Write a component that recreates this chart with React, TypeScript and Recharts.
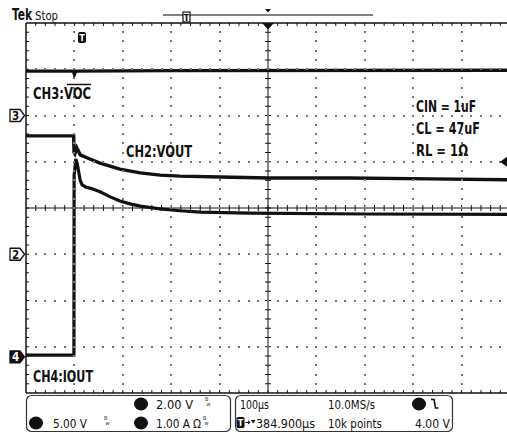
import { LineChart, Line, XAxis, YAxis, ReferenceLine } from "recharts";

// time in µs (100 µs/div), value in screen divisions (centre = 0)
const vocTime = [0, 98, 100, 103, 300, 1000];
const vocDiv = [2.96, 2.96, 2.89, 2.96, 2.97, 2.98];

const voutTime = [0, 98.5, 99.2, 101, 105, 112, 132, 153, 194, 236, 277, 318, 401, 504, 669, 835, 1000];
const voutDiv = [1.56, 1.56, 1.2, 1.17, 1.3, 1.15, 1.06, 0.97, 0.84, 0.76, 0.71, 0.69, 0.67, 0.65, 0.65, 0.63, 0.61];

const ioutTime = [0, 99, 99.4, 103, 106, 112, 116, 124, 132, 153, 174, 194, 215, 236, 277, 318, 360, 463, 700, 1000];
const ioutDiv = [-3.18, -3.18, 0.7, 1.06, 0.95, 0.6, 0.5, 0.45, 0.43, 0.35, 0.24, 0.15, 0.09, 0.04, -0.02, -0.06, -0.09, -0.11, -0.13, -0.14];

const majorT = [100, 200, 300, 400, 600, 700, 800, 900];
const majorV = [-3, -2, -1, 1, 2, 3];
const minorT = Array.from({ length: 49 }, (_, i) => (i + 1) * 20);
const minorV = Array.from({ length: 39 }, (_, i) => -4 + (i + 1) * 0.2);

const vocData = vocTime.map((t, i) => ({ t, v: vocDiv[i] }));
const voutData = voutTime.map((t, i) => ({ t, v: voutDiv[i] }));
const ioutData = ioutTime.map((t, i) => ({ t, v: ioutDiv[i] }));

const FONT = "'Liberation Sans Narrow', 'DejaVu Sans Condensed', 'Liberation Sans', sans-serif";
const INK = "#111";
const DOT = "#777";

// screen helpers for the overlay (plot box: x 26..510, y 23..393)
const xPix = (t: number) => 26 + t * 0.484;
const yPix = (d: number) => 208 - d * 46.25;

function ChanMarker({ y, label, filled }: { y: number; label: string; filled?: boolean }) {
  return (
    <g>
      <path
        d={`M10,${y - 6} h10 l4.5,6 l-4.5,6 h-10 z`}
        fill={filled ? INK : "#fff"}
        stroke={INK}
        strokeWidth={1.3}
        strokeLinejoin="round"
      />
      <text x={15.5} y={y + 4.3} fontSize={11.5} fontWeight="bold" fill={filled ? "#fff" : INK} textAnchor="middle" fontFamily={FONT}>
        {label}
      </text>
    </g>
  );
}

function Bw({ x, y }: { x: number; y: number }) {
  return (
    <g fill="#333" fontFamily={FONT} fontSize={5.5}>
      <text x={x} y={y - 3}>B</text>
      <text x={x + 1.5} y={y + 2}>w</text>
    </g>
  );
}

function T({ x, y, w, h, text, weight }: { x: number; y: number; w: number; h?: number; text: string; weight?: string }) {
  return (
    <text
      x={x}
      y={y}
      fontSize={h ?? 16}
      fontWeight={weight ?? "bold"}
      fill={INK}
      fontFamily={FONT}
      textLength={w}
      lengthAdjust="spacingAndGlyphs"
    >
      {text}
    </text>
  );
}

export default function App() {
  const tickT = 6.2;
  const tickV = 0.065;
  return (
    <div style={{ position: "fixed", left: 0, top: 0, width: 507, height: 434, overflow: "hidden", background: "#fff" }}>
      <div style={{ position: "absolute", left: 0, top: 0 }}>
        <LineChart width={520} height={434} margin={{ top: 23, right: 10, bottom: 41, left: 26 }}>
          <XAxis type="number" dataKey="t" domain={[0, 1000]} hide allowDataOverflow />
          <YAxis type="number" domain={[-4, 4]} hide allowDataOverflow />

          <ReferenceLine y={0} stroke={INK} strokeWidth={1} ifOverflow="visible" />
          <ReferenceLine x={500} stroke={INK} strokeWidth={1} ifOverflow="visible" />
          <ReferenceLine y={4} stroke={INK} strokeWidth={1.5} ifOverflow="visible" />
          <ReferenceLine y={-4} stroke={INK} strokeWidth={1.5} ifOverflow="visible" />
          <ReferenceLine x={0} stroke={INK} strokeWidth={1.5} ifOverflow="visible" />

          {minorT.map((t) => (
            <ReferenceLine key={`c${t}`} segment={[{ x: t, y: -tickV }, { x: t, y: tickV }]} stroke={INK} ifOverflow="visible" />
          ))}
          {minorT.map((t) => (
            <ReferenceLine key={`tp${t}`} segment={[{ x: t, y: 4 }, { x: t, y: 4 - tickV }]} stroke={INK} ifOverflow="visible" />
          ))}
          {minorT.map((t) => (
            <ReferenceLine key={`bt${t}`} segment={[{ x: t, y: -4 }, { x: t, y: -4 + tickV }]} stroke={INK} ifOverflow="visible" />
          ))}
          {minorV.map((v) => (
            <ReferenceLine key={`cv${v}`} segment={[{ x: 500 - tickT, y: v }, { x: 500 + tickT, y: v }]} stroke={INK} ifOverflow="visible" />
          ))}
          {minorV.map((v) => (
            <ReferenceLine key={`lv${v}`} segment={[{ x: 0, y: v }, { x: tickT, y: v }]} stroke={INK} ifOverflow="visible" />
          ))}

          <Line data={vocData} dataKey="v" type="linear" stroke={INK} strokeWidth={3.4} dot={false} isAnimationActive={false} />
          <Line data={voutData} dataKey="v" type="linear" stroke={INK} strokeWidth={3.4} dot={false} isAnimationActive={false} />
          <Line data={ioutData} dataKey="v" type="linear" stroke={INK} strokeWidth={3.2} dot={false} isAnimationActive={false} />
        </LineChart>
      </div>

      <svg width={507} height={434} style={{ position: "absolute", left: 0, top: 0, pointerEvents: "none" }}>
        {/* dotted graticule */}
        <g fill={DOT}>
          {majorV.map((v) =>
            minorT.map((t) => <rect key={`gh${v}_${t}`} x={Math.round(xPix(t)) - 1} y={Math.round(yPix(v)) - 1} width={2} height={2} />)
          )}
          {majorT.map((t) =>
            minorV.map((v) => <rect key={`gv${t}_${v}`} x={Math.round(xPix(t)) - 1} y={Math.round(yPix(v)) - 1} width={2} height={2} />)
          )}
        </g>

        {/* header */}
        <T x={12} y={20} w={20} h={15} text="Tek" />
        <T x={35} y={20} w={23} h={13} text="Stop" weight="normal" />
        <line x1={163} y1={15} x2={373} y2={15} stroke="#555" strokeWidth={1.5} />
        <rect x={183} y={12} width={7} height={10} fill="#fff" stroke={INK} strokeWidth={1.2} />
        <text x={186.5} y={20.5} fontSize={9} fontWeight="bold" textAnchor="middle" fill={INK} fontFamily={FONT}>T</text>
        <path d="M265,9 h6 l-3,3.5 z" fill={INK} />
        <path d="M262,23 h12 l-6,6.5 z" fill={INK} />

        {/* trigger point icon */}
        <rect x={78} y={32} width={8} height={11} rx={2} fill={INK} />
        <text x={82} y={41} fontSize={9} fontWeight="bold" textAnchor="middle" fill="#fff" fontFamily={FONT}>T</text>

        {/* channel ground markers */}
        <ChanMarker y={yPix(2)} label="3" />
        <ChanMarker y={yPix(-1)} label="2" />
        <ChanMarker y={yPix(-3.22)} label="4" filled />

        {/* trigger level marker */}
        <path d={`M500,${yPix(1)} l7,-5 v10 z`} fill={INK} />

        {/* trace labels */}
        <T x={33} y={99} w={58} text="CH3:VOC" />
        <line x1={67} y1={84.5} x2={91} y2={84.5} stroke={INK} strokeWidth={1.5} />
        <T x={126} y={157} w={66} text="CH2:VOUT" />
        <T x={33} y={382} w={60} text="CH4:IOUT" />
        <T x={416} y={112} w={60} text="CIN = 1uF" />
        <T x={416} y={134} w={64} text="CL = 47uF" />
        <T x={416} y={156} w={52} text="RL = 1Ω" />

        {/* bottom panel */}
        <rect x={26.5} y={395.5} width={204} height={36} rx={5} fill="#fff" stroke="#333" strokeWidth={1.2} />
        <rect x={235.5} y={395.5} width={217} height={36} rx={5} fill="#fff" stroke="#333" strokeWidth={1.2} />

        <ellipse cx={141} cy={404} rx={7} ry={6.5} fill={INK} />
        <T x={156} y={408.5} w={37} h={12.5} text="2.00 V" weight="normal" />
        <Bw x={205} y={404} />
        <ellipse cx={36} cy={423} rx={7} ry={6.5} fill={INK} />
        <T x={53} y={427.5} w={34} h={12.5} text="5.00 V" weight="normal" />
        <Bw x={104} y={423} />
        <ellipse cx={141} cy={423} rx={7} ry={6.5} fill={INK} />
        <T x={156} y={427.5} w={34} h={12.5} text="1.00 A" weight="normal" />
        <T x={193} y={427.5} w={8} h={12} text="Ω" weight="normal" />
        <Bw x={203} y={423} />

        <T x={240} y={408.5} w={29} h={12.5} text="100µs" weight="normal" />
        <T x={328} y={408.5} w={47} h={12.5} text="10.0MS/s" weight="normal" />
        <ellipse cx={419} cy={404} rx={7} ry={6.5} fill={INK} />
        <path d="M431,399.5 h3 l1.5,8.5 h3" fill="none" stroke={INK} strokeWidth={1.6} />

        <rect x={236.5} y={417} width={8} height={11} rx={1.5} fill={INK} />
        <text x={240.5} y={426} fontSize={9} fontWeight="bold" textAnchor="middle" fill="#fff" fontFamily={FONT}>T</text>
        <line x1={245.5} y1={422.5} x2={249.5} y2={422.5} stroke={INK} strokeWidth={1} />
        <path d="M248,420.5 l2.5,2 l-2.5,2 z" fill={INK} />
        <path d="M251,420 h4.5 l-2.25,3.5 z" fill={INK} />
        <T x={256} y={427.5} w={59} h={12.5} text="384.900µs" weight="normal" />
        <T x={328} y={427.5} w={54} h={12.5} text="10k points" weight="normal" />
        <T x={415} y={427.5} w={35} h={12.5} text="4.00 V" weight="normal" />
      </svg>
    </div>
  );
}
